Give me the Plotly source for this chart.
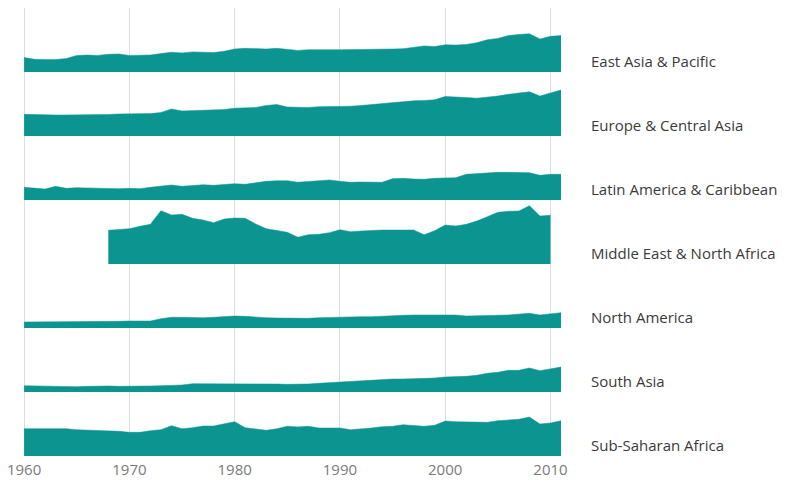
import plotly.graph_objects as go
from plotly.subplots import make_subplots

years = list(range(1960, 2012))

regions = [
    "East Asia & Pacific",
    "Europe & Central Asia",
    "Latin America & Caribbean",
    "Middle East & North Africa",
    "North America",
    "South Asia",
    "Sub-Saharan Africa",
]

east_asia = [14.5, 12.7, 12.4, 12.4, 13.4, 16.6, 17.0, 16.6, 17.7, 18.0,
             16.6, 16.6, 17.0, 18.4, 19.8, 19.1, 20.1, 19.8, 19.4, 20.8,
             23.0, 23.7, 23.0, 23.0, 23.7, 23.0, 21.6, 22.3, 22.6, 22.3,
             22.3, 22.3, 22.3, 22.3, 22.6, 23.0, 23.3, 24.4, 26.1, 25.4,
             27.2, 26.9, 27.6, 29.3, 32.2, 33.6, 36.4, 37.5, 38.2, 32.9,
             35.7, 36.4]

europe = [21.7, 21.3, 21.0, 21.0, 21.0, 21.0, 21.0, 21.2, 21.6, 22.0,
          22.3, 22.3, 22.4, 23.5, 27.0, 25.0, 25.5, 26.0, 26.3, 26.5,
          27.8, 28.2, 28.6, 30.5, 31.5, 29.0, 28.5, 28.5, 29.3, 29.3,
          29.6, 29.8, 30.5, 31.5, 32.0, 33.3, 34.3, 35.2, 35.6, 36.2,
          39.5, 39.3, 38.5, 37.8, 38.6, 40.0, 41.7, 43.0, 44.2, 40.0,
          42.8, 46.0]

latin_america = [12.7, 11.7, 11.0, 13.7, 11.7, 12.3, 12.0, 11.7, 11.3, 11.3,
                 11.7, 11.3, 12.7, 13.7, 15.0, 13.7, 14.3, 15.3, 14.7, 15.3,
                 16.3, 15.7, 17.0, 18.7, 19.2, 19.3, 17.8, 18.3, 19.3, 20.0,
                 18.7, 17.7, 18.0, 18.0, 17.7, 21.3, 21.7, 21.0, 20.7, 21.7,
                 22.3, 22.3, 25.7, 26.3, 27.3, 27.7, 27.7, 27.3, 27.3, 24.7,
                 25.7, 25.7]

middle_east = [None] * 8 + [
    33.7, 34.3,
    35.3, 37.7, 39.7, 53.3, 49.0, 49.7, 45.7, 44.0, 41.3, 45.0,
    46.0, 45.7, 40.0, 35.3, 33.5, 31.7, 26.8, 29.3, 29.7, 31.3,
    34.3, 32.3, 33.0, 33.7, 34.0, 34.0, 34.3, 34.0, 29.3, 33.3,
    39.0, 38.0, 39.7, 43.0, 47.3, 51.7, 52.7, 53.0, 58.3, 48.0,
    48.7, None]

north_america = [6.0, 6.0, 6.0, 6.3, 6.3, 6.3, 6.3, 6.3, 6.5, 6.7,
                 7.0, 6.7, 7.0, 9.3, 10.7, 10.7, 10.3, 10.3, 10.7, 11.3,
                 12.0, 11.7, 10.7, 10.3, 10.0, 9.7, 9.3, 9.7, 10.3, 10.7,
                 11.0, 11.0, 11.3, 11.3, 12.0, 12.7, 12.7, 13.0, 13.0, 13.0,
                 13.7, 13.0, 12.0, 12.0, 12.3, 12.7, 13.0, 13.7, 14.7, 13.0,
                 14.0, 15.3]

south_asia = [6.3, 6.0, 6.0, 6.0, 5.7, 5.3, 5.7, 6.0, 6.0, 5.7,
              5.7, 5.3, 6.0, 6.3, 6.7, 7.0, 8.3, 8.3, 8.3, 8.7,
              8.7, 8.3, 8.0, 8.0, 8.0, 7.7, 7.7, 8.0, 8.7, 9.3,
              10.0, 11.0, 11.3, 12.0, 12.3, 13.0, 13.0, 13.3, 13.7, 14.0,
              15.0, 15.0, 15.7, 16.7, 18.7, 19.7, 21.7, 21.7, 24.0, 21.3,
              23.0, 25.0]

sub_saharan = [27.3, 27.3, 27.7, 27.7, 27.3, 26.3, 26.0, 25.3, 25.7, 24.7,
               23.7, 23.7, 25.3, 26.3, 30.3, 27.3, 28.3, 30.0, 30.0, 32.3,
               34.3, 28.3, 26.7, 25.7, 27.2, 29.8, 29.1, 29.7, 28.0, 28.3,
               28.0, 26.3, 27.0, 28.0, 29.3, 29.7, 31.3, 30.7, 29.7, 30.7,
               35.0, 34.3, 34.3, 33.7, 33.7, 35.3, 36.0, 36.7, 39.0, 32.0,
               33.0, 35.3]

series = [east_asia, europe, latin_america, middle_east,
          north_america, south_asia, sub_saharan]

decade_ticks = [1960, 1970, 1980, 1990, 2000, 2010]

TEAL = "#0c9490"
FONT = "'Open Sans', 'Noto Sans', sans-serif"

fig = make_subplots(rows=7, cols=1, shared_xaxes=True, vertical_spacing=0)

for i, (name, vals) in enumerate(zip(regions, series)):
    fig.add_trace(
        go.Scatter(
            x=years, y=vals, name=name, mode="lines",
            line=dict(color=TEAL, width=0.5),
            fill="tozeroy", fillcolor=TEAL,
            connectgaps=False, showlegend=False,
            hoverinfo="x+y+name",
        ),
        row=i + 1, col=1,
    )
    fig.update_yaxes(range=[0, 64], visible=False, showgrid=False,
                     zeroline=False, row=i + 1, col=1)
    yref = "y" if i == 0 else f"y{i + 1}"
    fig.add_annotation(
        x=1.0515, xref="paper", xanchor="left",
        y=11, yref=yref, yanchor="middle",
        text=name, showarrow=False,
        font=dict(family=FONT, size=15, color="#3a3a3a"),
    )

fig.update_xaxes(
    range=[1959.8, 2011], tickvals=decade_ticks,
    showgrid=True, gridcolor="#dddddd", gridwidth=1,
    zeroline=False, showline=False, ticks="",
    ticklabeloverflow="allow", ticklabelstandoff=3,
    tickfont=dict(family=FONT, size=15, color="#7a7a7a"),
)

fig.update_layout(
    width=794, height=480,
    margin=dict(l=13.6, r=240.8, t=0, b=32, autoexpand=False),
    paper_bgcolor="white", plot_bgcolor="white",
    showlegend=False,
)

fig.write_html("out.html")
